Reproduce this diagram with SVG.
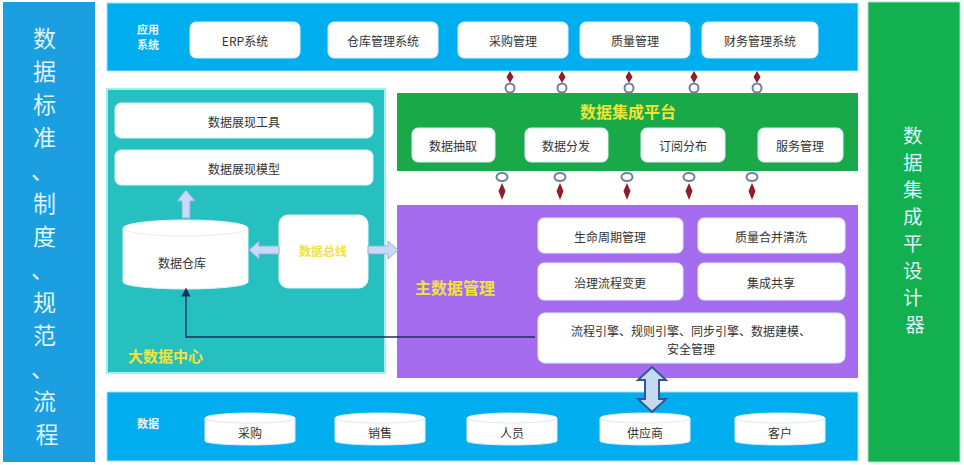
<svg xmlns="http://www.w3.org/2000/svg" width="964" height="465" viewBox="0 0 964 465">
<style>
.t{font-family:"Noto Sans CJK SC","Liberation Sans",sans-serif;}
.box{fill:#ffffff;stroke:#d8eef7;stroke-width:1;}
.bt{font-family:"Noto Sans CJK SC","Liberation Sans",sans-serif;font-size:12px;fill:#333333;text-anchor:middle;dominant-baseline:central;}
.lbl{font-family:"Noto Sans CJK SC","Liberation Sans",sans-serif;font-size:11px;font-weight:bold;fill:#e8f6ff;text-anchor:middle;}
.yl{font-family:"Noto Sans CJK SC","Liberation Sans",sans-serif;font-weight:bold;fill:#f2e33a;}
.vt{font-family:"Noto Sans CJK SC","Liberation Sans",sans-serif;fill:#dff3ff;text-anchor:middle;}
.ring{fill:none;stroke:#6d7f9e;stroke-width:2;}
.spin{fill:#8e1f2a;}
.barrow{fill:#c7dcf4;stroke:#8fb0d8;stroke-width:1;}
</style>
<defs>
<marker id="up" viewBox="0 0 10 10" refX="5" refY="5" markerWidth="7" markerHeight="7" orient="auto">
<path d="M0,0 L10,5 L0,10 Z" fill="#1f2d5a"/>
</marker>
</defs>
<rect width="964" height="465" fill="#ffffff"/>

<g id="left-panel">
<rect x="3" y="2" width="92" height="460" fill="#1c9fe0"/>
<text class="vt" font-size="23">
<tspan x="47" y="47">数</tspan>
<tspan x="47" y="80">据</tspan>
<tspan x="47" y="113">标</tspan>
<tspan x="47" y="146">准</tspan>
<tspan x="45" y="179">、</tspan>
<tspan x="47" y="212">制</tspan>
<tspan x="47" y="245">度</tspan>
<tspan x="45" y="278">、</tspan>
<tspan x="47" y="311">规</tspan>
<tspan x="47" y="344">范</tspan>
<tspan x="45" y="377">、</tspan>
<tspan x="47" y="410">流</tspan>
<tspan x="47" y="443">程</tspan>
</text>
</g>

<g id="right-panel">
<rect x="868" y="2" width="92" height="460" fill="#13b04f" stroke="#a9e3c0" stroke-width="1"/>
<text class="vt" font-size="19.5" fill="#e6f7ea">
<tspan x="915" y="143">数</tspan>
<tspan x="915" y="170">据</tspan>
<tspan x="915" y="197">集</tspan>
<tspan x="915" y="224">成</tspan>
<tspan x="915" y="251">平</tspan>
<tspan x="915" y="278">设</tspan>
<tspan x="915" y="305">计</tspan>
<tspan x="915" y="332">器</tspan>
</text>
</g>

<g id="app-bar">
<rect x="107" y="3" width="751" height="68" fill="#00aeef" stroke="#9fe2f8" stroke-width="1"/>
<text class="lbl" x="148" y="34">应用</text>
<text class="lbl" x="148" y="49">系统</text>
</g>
<g id="app-erp"><rect class="box" x="190" y="22" width="110" height="36" rx="6"/><text class="bt" x="245" y="40">ERP系统</text></g>
<g id="app-warehouse"><rect class="box" x="328" y="22" width="110" height="36" rx="6"/><text class="bt" x="383" y="40">仓库管理系统</text></g>
<g id="app-purchase"><rect class="box" x="458" y="22" width="110" height="36" rx="6"/><text class="bt" x="513" y="40">采购管理</text></g>
<g id="app-quality"><rect class="box" x="580" y="22" width="110" height="36" rx="6"/><text class="bt" x="635" y="40">质量管理</text></g>
<g id="app-finance"><rect class="box" x="702" y="22" width="116" height="36" rx="6"/><text class="bt" x="760" y="40">财务管理系统</text></g>

<g id="bigdata-center">
<rect x="107" y="89" width="278" height="284" fill="#27c0c0" stroke="#a3eef2" stroke-width="2"/>
<text class="yl" x="128" y="362" font-size="15">大数据中心</text>
</g>
<g id="bd-tool"><rect class="box" x="115" y="103" width="258" height="35" rx="6"/><text class="bt" x="244" y="121">数据展现工具</text></g>
<g id="bd-model"><rect class="box" x="115" y="150" width="258" height="35" rx="6"/><text class="bt" x="244" y="168">数据展现模型</text></g>

<g id="bd-warehouse">
<path d="M123,228 A62.5,8 0 0 1 248,228 L248,282 A62.5,7 0 0 1 123,282 Z" fill="#ffffff" stroke="#e0f2f4" stroke-width="1"/>
<path d="M123,228 A62.5,8 0 0 0 248,228" fill="none" stroke="#e8eef0" stroke-width="1"/>
<text class="bt" x="182" y="262">数据仓库</text>
</g>

<g id="bd-bus">
<rect x="279" y="215" width="89" height="73" rx="9" fill="#ffffff" stroke="#e0f2f4" stroke-width="1"/>
<text class="yl" x="323" y="256" font-size="12" text-anchor="middle" fill="#f3d64a">数据总线</text>
</g>

<g id="integration-platform">
<rect x="397" y="93" width="461" height="78" fill="#19a948"/>
<text class="yl" x="628" y="118" font-size="16" text-anchor="middle" fill="#e9e83a">数据集成平台</text>
</g>
<g id="ip-extract"><rect class="box" x="412" y="128" width="83" height="34" rx="6"/><text class="bt" x="453" y="145">数据抽取</text></g>
<g id="ip-distribute"><rect class="box" x="525" y="128" width="83" height="34" rx="6"/><text class="bt" x="566" y="145">数据分发</text></g>
<g id="ip-subscribe"><rect class="box" x="641" y="128" width="84" height="34" rx="6"/><text class="bt" x="683" y="145">订阅分布</text></g>
<g id="ip-service"><rect class="box" x="758" y="128" width="85" height="34" rx="6"/><text class="bt" x="800" y="145">服务管理</text></g>

<g id="master-data">
<rect x="397" y="205" width="461" height="173" fill="#a66cf0"/>
<text class="yl" x="415" y="294" font-size="16">主数据管理</text>
</g>
<g id="md-lifecycle"><rect class="box" x="538" y="218" width="145" height="35" rx="6"/><text class="bt" x="610" y="236">生命周期管理</text></g>
<g id="md-quality"><rect class="box" x="698" y="218" width="147" height="35" rx="6"/><text class="bt" x="771" y="236">质量合并清洗</text></g>
<g id="md-process"><rect class="box" x="538" y="263" width="145" height="37" rx="6"/><text class="bt" x="610" y="282">治理流程变更</text></g>
<g id="md-share"><rect class="box" x="698" y="263" width="147" height="37" rx="6"/><text class="bt" x="771" y="282">集成共享</text></g>
<g id="md-engine"><rect class="box" x="538" y="313" width="307" height="50" rx="7"/>
<text class="bt" x="691" y="330">流程引擎、规则引擎、同步引擎、数据建模、</text>
<text class="bt" x="691" y="348">安全管理</text></g>

<g id="data-bar">
<rect x="107" y="392" width="751" height="69" fill="#00aeef" stroke="#9fe2f8" stroke-width="1"/>
<text class="lbl" x="148" y="428">数据</text>
</g>
<g id="data-purchase"><path d="M205,418 A45,5 0 0 1 295,418 L295,441 A45,4 0 0 1 205,441 Z" class="box"/><path d="M205,418 A45,5 0 0 0 295,418" fill="none" stroke="#dde8ee"/><text class="bt" x="250" y="432">采购</text></g>
<g id="data-sales"><path d="M335,418 A45,5 0 0 1 425,418 L425,441 A45,4 0 0 1 335,441 Z" class="box"/><path d="M335,418 A45,5 0 0 0 425,418" fill="none" stroke="#dde8ee"/><text class="bt" x="380" y="432">销售</text></g>
<g id="data-staff"><path d="M467,418 A45,5 0 0 1 557,418 L557,441 A45,4 0 0 1 467,441 Z" class="box"/><path d="M467,418 A45,5 0 0 0 557,418" fill="none" stroke="#dde8ee"/><text class="bt" x="512" y="432">人员</text></g>
<g id="data-supplier"><path d="M600,418 A45,5 0 0 1 690,418 L690,441 A45,4 0 0 1 600,441 Z" class="box"/><path d="M600,418 A45,5 0 0 0 690,418" fill="none" stroke="#dde8ee"/><text class="bt" x="645" y="432">供应商</text></g>
<g id="data-customer"><path d="M735,418 A45,5 0 0 1 825,418 L825,441 A45,4 0 0 1 735,441 Z" class="box"/><path d="M735,418 A45,5 0 0 0 825,418" fill="none" stroke="#dde8ee"/><text class="bt" x="780" y="432">客户</text></g>

<g id="connectors">
<!-- up block arrow warehouse -> model -->
<path class="barrow" d="M182,218 L182,201 L177,201 L186,190 L195,201 L190,201 L190,218 Z"/>
<!-- horizontal double arrow warehouse <-> bus <-> master data (passes behind bus box) -->
<path class="barrow" d="M249,250 L259,241 L259,246 L279,246 L279,254 L259,254 L259,259 Z"/>
<path class="barrow" d="M368,246 L388,246 L388,241 L398,250 L388,259 L388,254 L368,254 Z"/>
<!-- line from master data to warehouse -->
<path d="M535,337 H186 V292" fill="none" stroke="#1f2d5a" stroke-width="1.3" marker-end="url(#up)"/>
<!-- vertical double arrow data <-> master data -->
<path d="M652,367 L666,380 L659,380 L659,399 L666,399 L652,412 L638,399 L645,399 L645,380 L638,380 Z" fill="#c5d9f1" stroke="#34568f" stroke-width="2"/>
<!-- top connectors app bar -> integration platform -->
<g>
<path class="spin" d="M510,71 L513.5,77 L510,83 L506.5,77 Z"/><circle class="ring" cx="510" cy="88" r="4.5"/>
<path class="spin" d="M562,71 L565.5,77 L562,83 L558.5,77 Z"/><circle class="ring" cx="562" cy="88" r="4.5"/>
<path class="spin" d="M629,71 L632.5,77 L629,83 L625.5,77 Z"/><circle class="ring" cx="629" cy="88" r="4.5"/>
<path class="spin" d="M694,71 L697.5,77 L694,83 L690.5,77 Z"/><circle class="ring" cx="694" cy="88" r="4.5"/>
<path class="spin" d="M757,71 L760.5,77 L757,83 L753.5,77 Z"/><circle class="ring" cx="757" cy="88" r="4.5"/>
</g>
<!-- bottom connectors platform -> master data -->
<g>
<ellipse class="ring" cx="502" cy="177" rx="5.5" ry="4"/><path class="spin" d="M502,183 L505.5,191 L502,200 L498.5,191 Z"/>
<ellipse class="ring" cx="560" cy="177" rx="5.5" ry="4"/><path class="spin" d="M560,183 L563.5,191 L560,200 L556.5,191 Z"/>
<ellipse class="ring" cx="627" cy="177" rx="5.5" ry="4"/><path class="spin" d="M627,183 L630.5,191 L627,200 L623.5,191 Z"/>
<ellipse class="ring" cx="689" cy="177" rx="5.5" ry="4"/><path class="spin" d="M689,183 L692.5,191 L689,200 L685.5,191 Z"/>
<ellipse class="ring" cx="752" cy="177" rx="5.5" ry="4"/><path class="spin" d="M752,183 L755.5,191 L752,200 L748.5,191 Z"/>
</g>
</g>
</svg>
